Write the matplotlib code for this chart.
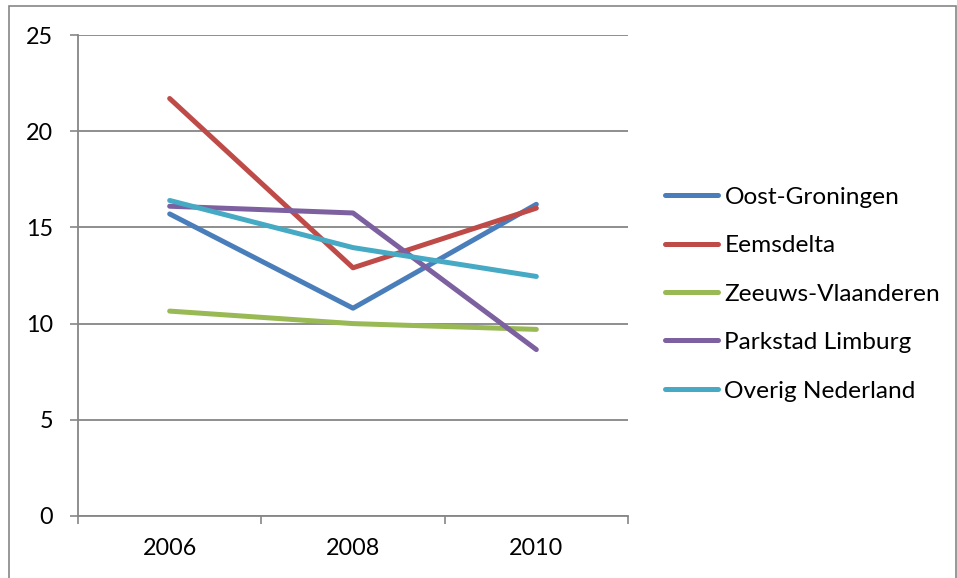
import matplotlib.pyplot as plt
from matplotlib.patches import Rectangle

plt.rcParams['font.family'] = ['Lato', 'DejaVu Sans']

# Data
years = ['2006', '2008', '2010']
oost_groningen = [15.7, 10.8, 16.2]
eemsdelta = [21.7, 12.9, 16.0]
zeeuws_vlaanderen = [10.65, 10.0, 9.7]
parkstad_limburg = [16.1, 15.75, 8.65]
overig_nederland = [16.4, 13.95, 12.45]

series = [
    ('Oost-Groningen', oost_groningen, '#4A7EBB'),
    ('Eemsdelta', eemsdelta, '#BE4B48'),
    ('Zeeuws-Vlaanderen', zeeuws_vlaanderen, '#98B954'),
    ('Parkstad Limburg', parkstad_limburg, '#7D60A0'),
    ('Overig Nederland', overig_nederland, '#46AAC5'),
]

W, H = 957, 578
fig = plt.figure(figsize=(W / 100, H / 100), dpi=100)
ax = fig.add_axes([78 / W, (H - 516) / H, 550 / W, 481 / H])

grey = '#868686'
fs = 16.8
x = list(range(len(years)))
for name, vals, col in series:
    ax.plot(x, vals, color=col, lw=3.6, solid_capstyle='round',
            solid_joinstyle='round', label=name)

ax.set_ylim(0, 25)
ax.set_yticks([0, 5, 10, 15, 20, 25])
ax.set_xlim(-0.5, len(years) - 0.5)
ax.set_xticks(x)
ax.set_xticklabels(years)
ax.set_xticks([i - 0.5 for i in range(len(years) + 1)], minor=True)
ax.tick_params(axis='x', which='major', length=0, pad=16, labelsize=fs)
ax.tick_params(axis='x', which='minor', length=6, width=1.2, color=grey, direction='out')
ax.tick_params(axis='y', length=6, width=1.2, color=grey, pad=12, labelsize=fs)
ax.grid(axis='y', color=grey, lw=1.3)
ax.set_axisbelow(True)
for s in ['top', 'right']:
    ax.spines[s].set_visible(False)
for s in ['left', 'bottom']:
    ax.spines[s].set_color(grey)
    ax.spines[s].set_linewidth(1.3)

ax.legend(loc='center left', bbox_to_anchor=(665 / W, (H - 294) / H),
          bbox_transform=fig.transFigure, frameon=False, fontsize=17.6,
          handlelength=2.15, handletextpad=0.28, labelspacing=1.12,
          borderaxespad=0, borderpad=0)

fig.patches.append(Rectangle((8.5 / W, -0.01), (955.5 - 8.5) / W, (H - 6) / H + 0.01,
                             transform=fig.transFigure, fill=False,
                             edgecolor=grey, lw=1.2))

fig.savefig('out.png', dpi=100)
